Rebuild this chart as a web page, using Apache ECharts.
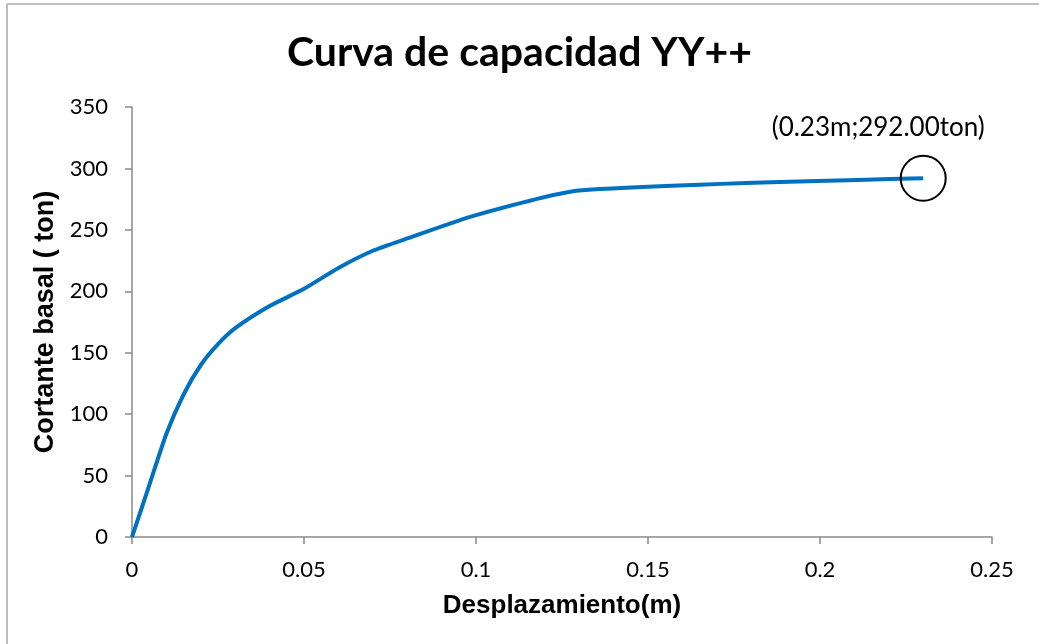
<!DOCTYPE html>
<html>
<head>
<meta charset="utf-8">
<script src="https://cdn.jsdelivr.net/npm/echarts@6/dist/echarts.min.js"></script>
<style>
  html, body { margin: 0; padding: 0; background: #fff; }
  #main { width: 1039px; height: 644px; }
</style>
</head>
<body>
<div id="main"></div>
<script>
// curva de capacidad: desplazamiento (m) vs cortante basal (ton)
var desplazamiento = [0, 0.005, 0.01, 0.015, 0.02, 0.025, 0.03, 0.04, 0.05, 0.06, 0.07, 0.08, 0.1, 0.13, 0.23];
var cortante = [0, 42, 84, 116, 140, 157, 170, 188, 202, 219, 233, 243, 262, 282, 292];
var puntoFinal = [0.23, 292];
var etiquetaFinal = '(0.23m;292.00ton)';

var data = [];
for (let i = 0; i < desplazamiento.length; i++) {
  data.push([desplazamiento[i], cortante[i]]);
}

var myChart = echarts.init(document.getElementById('main'));
var labelFont = 'Lato, "Open Sans", sans-serif';
var boldFont = '"Liberation Sans", Arial, sans-serif';

myChart.setOption({
  animation: false,
  title: {
    text: 'Curva de capacidad YY++',
    left: 'center',
    top: 27,
    textStyle: { fontFamily: labelFont, fontWeight: 'bold', fontSize: 41, color: '#000' }
  },
  grid: { left: 132, right: 47, top: 107, bottom: 107 },
  graphic: [
    { type: 'line', shape: { x1: 7, y1: 4, x2: 1039, y2: 4 }, style: { stroke: '#bdbdbd', lineWidth: 2 } },
    { type: 'line', shape: { x1: 7, y1: 4, x2: 7, y2: 644 }, style: { stroke: '#bdbdbd', lineWidth: 2 } }
  ],
  xAxis: {
    type: 'value',
    min: 0, max: 0.25, interval: 0.05,
    name: 'Desplazamiento(m)',
    nameLocation: 'middle',
    nameGap: 56,
    nameTextStyle: { fontFamily: boldFont, fontWeight: 'bold', fontSize: 26, color: '#000' },
    axisLine: { lineStyle: { color: '#898989', width: 1.5 } },
    axisTick: { show: true, length: 7, lineStyle: { color: '#898989', width: 1.5 } },
    axisLabel: { margin: 22, fontFamily: labelFont, fontSize: 22, color: '#000' },
    splitLine: { show: false }
  },
  yAxis: {
    type: 'value',
    min: 0, max: 350, interval: 50,
    name: 'Cortante basal ( ton)',
    nameLocation: 'middle',
    nameGap: 71,
    nameTextStyle: { fontFamily: boldFont, fontWeight: 'bold', fontSize: 27, color: '#000' },
    axisLine: { show: true, lineStyle: { color: '#898989', width: 1.5 } },
    axisTick: { show: true, length: 7, lineStyle: { color: '#898989', width: 1.5 } },
    axisLabel: { margin: 24, fontFamily: labelFont, fontSize: 22, color: '#000' },
    splitLine: { show: false }
  },
  series: [{
    type: 'line',
    data: data,
    smooth: 0.2,
    showSymbol: false,
    lineStyle: { color: '#0070c0', width: 4 },
    markPoint: {
      symbol: 'circle',
      symbolSize: 45,
      itemStyle: { color: 'rgba(0,0,0,0)', borderColor: '#000', borderWidth: 2 },
      label: {
        show: true,
        formatter: etiquetaFinal,
        position: 'top',
        distance: 14,
        offset: [-45, 0],
        fontFamily: labelFont,
        fontSize: 26,
        color: '#000'
      },
      data: [{ coord: puntoFinal }]
    }
  }]
});
</script>
</body>
</html>
